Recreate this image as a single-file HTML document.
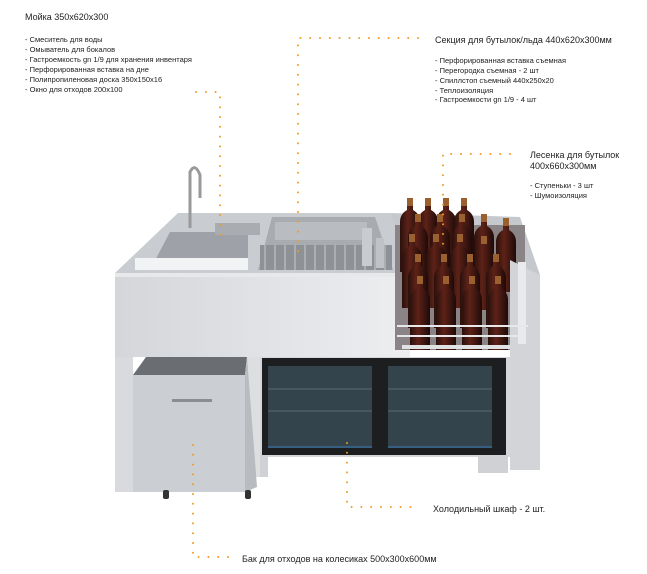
<!DOCTYPE html>
<html><head><meta charset="utf-8"><style>
body{margin:0;background:#fff;width:647px;height:574px;overflow:hidden}
svg{position:absolute;left:0;top:0}
text{font-family:"Liberation Sans","DejaVu Sans",sans-serif;fill:#222}
.t{font-size:9px}.s{font-size:7.5px}
</style></head><body>
<svg width="647" height="574" viewBox="0 0 647 574">
<defs>
<linearGradient id="fr" x1="0" x2="1"><stop offset="0" stop-color="#d4d6da"/><stop offset="1" stop-color="#eceef0"/></linearGradient>
<linearGradient id="bt" x1="0" x2="1"><stop offset="0" stop-color="#2a100c"/><stop offset=".4" stop-color="#5e2218"/><stop offset="1" stop-color="#1e0a08"/></linearGradient>
<g id="b"><rect x="-3" y="-14" width="6" height="8" fill="#9a6030"/><path d="M-3-6 L-3 -2 Q-10 2 -10 10 L-10 60 L10 60 L10 10 Q10 2 3 -2 L3 -6Z" fill="url(#bt)"/></g>
</defs>
<polygon points="115,273 178,213 390,213 410,273" fill="#c9ccd1"/>
<polygon points="390,213 520,217 540,275 410,275" fill="#c5c8cc"/>
<polygon points="150,270 170,232 248,232 248,270" fill="#9ea2a8"/>
<rect x="135" y="258" width="113" height="12" fill="#f2f3f4"/>
<rect x="215" y="223" width="45" height="12" fill="#a9adb2"/>
<path d="M190 228 L190 172 Q195 162 200 175 L200 198" stroke="#999" stroke-width="3" fill="none"/>
<polygon points="258,270 272,217 375,217 393,270" fill="#a8acb1"/>
<rect x="275" y="222" width="92" height="18" fill="#b9bcc0"/>
<rect x="260" y="245" width="132" height="25" fill="#8e9297"/>
<g stroke="#c8cbce" stroke-width="1">
<line x1="265" y1="245" x2="265" y2="270"/><line x1="275" y1="245" x2="275" y2="270"/><line x1="285" y1="245" x2="285" y2="270"/><line x1="295" y1="245" x2="295" y2="270"/><line x1="305" y1="245" x2="305" y2="270"/><line x1="315" y1="245" x2="315" y2="270"/><line x1="325" y1="245" x2="325" y2="270"/><line x1="335" y1="245" x2="335" y2="270"/><line x1="345" y1="245" x2="345" y2="270"/><line x1="355" y1="245" x2="355" y2="270"/><line x1="365" y1="245" x2="365" y2="270"/><line x1="375" y1="245" x2="375" y2="270"/><line x1="385" y1="245" x2="385" y2="270"/>
</g>
<rect x="362" y="228" width="10" height="38" fill="#c9cccf"/><rect x="376" y="238" width="8" height="30" fill="#c0c3c6"/>
<rect x="115" y="273" width="295" height="84" fill="url(#fr)"/>
<rect x="115" y="273" width="295" height="4" fill="#e6e8ea"/>
<rect x="115" y="357" width="18" height="135" fill="#d8dadd"/>
<rect x="247" y="357" width="13" height="120" fill="#dcdee0"/>
<rect x="395" y="225" width="130" height="125" fill="#8a8486"/>
<use href="#b" x="410" y="212"/><use href="#b" x="428" y="212"/><use href="#b" x="446" y="212"/><use href="#b" x="464" y="212"/>
<use href="#b" x="418" y="228"/><use href="#b" x="440" y="228"/><use href="#b" x="462" y="228"/><use href="#b" x="484" y="228"/><use href="#b" x="506" y="232"/>
<use href="#b" x="412" y="248"/><use href="#b" x="436" y="248"/><use href="#b" x="460" y="248"/><use href="#b" x="484" y="250"/>
<use href="#b" x="418" y="268"/><use href="#b" x="444" y="268"/><use href="#b" x="470" y="268"/><use href="#b" x="496" y="268"/>
<use href="#b" x="420" y="290"/><use href="#b" x="446" y="290"/><use href="#b" x="472" y="290"/><use href="#b" x="498" y="290"/>
<rect x="402" y="345" width="108" height="4" fill="#e0e2e4"/>
<polygon points="510,260 540,275 540,470 510,470" fill="#d2d4d7"/>
<rect x="518" y="262" width="8" height="82" fill="#e9eaec"/>
<line x1="397" y1="326" x2="528" y2="326" stroke="#e8e8ea" stroke-width="2"/>
<line x1="397" y1="336" x2="526" y2="336" stroke="#e8e8ea" stroke-width="2"/>
<rect x="260" y="357" width="250" height="100" fill="#d4d6d9"/>
<rect x="262" y="358" width="244" height="97" fill="#1c1e20"/>
<rect x="268" y="366" width="104" height="82" fill="#34444d"/>
<rect x="388" y="366" width="104" height="82" fill="#34444d"/>
<line x1="268" y1="389" x2="372" y2="389" stroke="#5a6a72"/><line x1="268" y1="411" x2="372" y2="411" stroke="#5a6a72"/>
<line x1="388" y1="389" x2="492" y2="389" stroke="#5a6a72"/><line x1="388" y1="411" x2="492" y2="411" stroke="#5a6a72"/>
<line x1="268" y1="447" x2="372" y2="447" stroke="#3a7ab8"/><line x1="388" y1="447" x2="492" y2="447" stroke="#3a7ab8"/>
<rect x="260" y="455" width="8" height="22" fill="#cfd1d4"/><rect x="478" y="455" width="30" height="18" fill="#cfd1d4"/>
<polygon points="133,375 146,357 247,357 245,375" fill="#6a6e73"/>
<rect x="133" y="375" width="112" height="117" fill="#cbced2"/>
<polygon points="245,375 247,357 257,487 245,492" fill="#b8bbbf"/>
<rect x="172" y="399" width="40" height="3" fill="#8a8e93"/>
<rect x="163" y="490" width="6" height="9" rx="2" fill="#333"/><rect x="245" y="490" width="6" height="9" rx="2" fill="#333"/>
<g stroke="#f39a1e" stroke-width="2" stroke-linecap="round" stroke-dasharray="0 9.8" fill="none">
<path d="M196 92 H220 V242"/>
<path d="M418 38 H298 V252"/>
<path d="M510 154 H443 V250"/>
<path d="M347 443 V507 H420"/>
<path d="M193 445 V557 H230"/>
</g>
<text class="t" x="25" y="20">Мойка 350х620х300</text>
<text class="s" x="25" y="42">- Смеситель для воды</text>
<text class="s" x="25" y="52">- Омыватель для бокалов</text>
<text class="s" x="25" y="62">- Гастроемкость gn 1/9 для хранения инвентаря</text>
<text class="s" x="25" y="72">- Перфорированная вставка на дне</text>
<text class="s" x="25" y="82">- Полипропиленовая доска 350х150х16</text>
<text class="s" x="25" y="92">- Окно для отходов 200х100</text>
<text class="t" x="435" y="43">Секция для бутылок/льда 440х620х300мм</text>
<text class="s" x="435" y="63">- Перфорированная вставка съемная</text>
<text class="s" x="435" y="73">- Перегородка съемная - 2 шт</text>
<text class="s" x="435" y="83">- Спиллстоп съемный 440х250х20</text>
<text class="s" x="435" y="93">- Теплоизоляция</text>
<text class="s" x="435" y="102">- Гастроемкости gn 1/9 - 4 шт</text>
<text class="t" x="530" y="158">Лесенка для бутылок</text>
<text class="t" x="530" y="169">400х660х300мм</text>
<text class="s" x="530" y="188">- Ступеньки - 3 шт</text>
<text class="s" x="530" y="198">- Шумоизоляция</text>
<text class="t" x="433" y="512">Холодильный шкаф - 2 шт.</text>
<text class="t" x="242" y="562">Бак для отходов на колесиках  500х300х600мм</text>
</svg>
</body></html>
